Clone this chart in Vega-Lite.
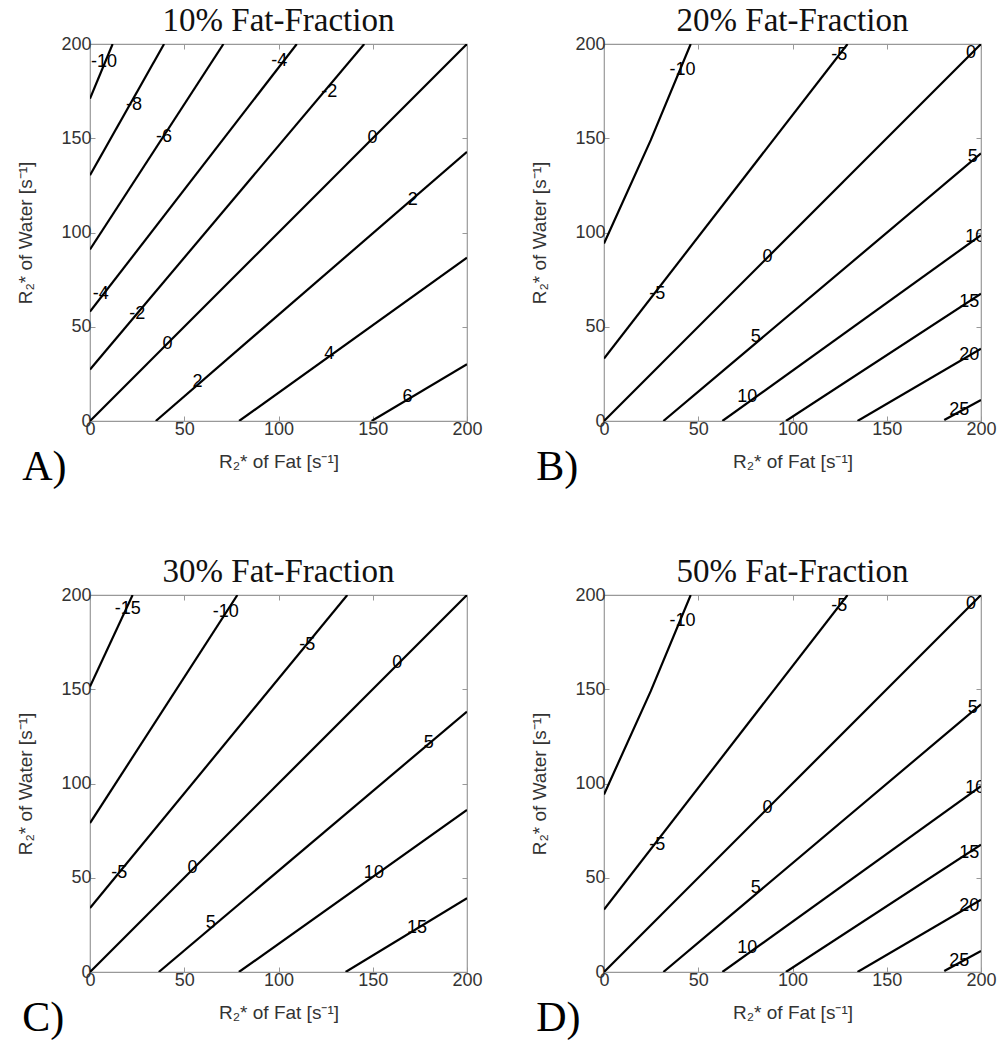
{
  "$schema": "https://vega.github.io/schema/vega-lite/v6.json",
  "background": "white",
  "padding": {"left": 16, "top": 4, "right": 0, "bottom": 0},
  "autosize": {"type": "pad"},
  "columns": 2,
  "spacing": {"row": 174, "column": 137},
  "bounds": "flush",
  "datasets": {
    "A_lines": [
      {"level": "-10", "fat": 0, "water": 171}, {"level": "-10", "fat": 12, "water": 200},
      {"level": "-8", "fat": 0, "water": 130.4}, {"level": "-8", "fat": 39.3, "water": 200},
      {"level": "-6", "fat": 0, "water": 91}, {"level": "-6", "fat": 70.8, "water": 200},
      {"level": "-4", "fat": 0, "water": 58}, {"level": "-4", "fat": 109.7, "water": 200},
      {"level": "-2", "fat": 0, "water": 27.3}, {"level": "-2", "fat": 145.5, "water": 200},
      {"level": "0", "fat": 0, "water": 0}, {"level": "0", "fat": 200, "water": 200},
      {"level": "2", "fat": 34.9, "water": 0}, {"level": "2", "fat": 200, "water": 142.8},
      {"level": "4", "fat": 79.1, "water": 0}, {"level": "4", "fat": 200, "water": 86.7},
      {"level": "6", "fat": 149.4, "water": 0}, {"level": "6", "fat": 200, "water": 30.1}
    ],
    "A_labels": [
      {"label": "-10", "fat": 7.4, "water": 190.6},
      {"label": "-8", "fat": 23.4, "water": 167.6},
      {"label": "-6", "fat": 39.3, "water": 150.8},
      {"label": "-4", "fat": 5.7, "water": 67.6},
      {"label": "-4", "fat": 100.4, "water": 191},
      {"label": "-2", "fat": 25.1, "water": 57},
      {"label": "-2", "fat": 126.9, "water": 174.7},
      {"label": "0", "fat": 41.1, "water": 41.1},
      {"label": "0", "fat": 149.9, "water": 149.9},
      {"label": "2", "fat": 57, "water": 20.7},
      {"label": "2", "fat": 171.2, "water": 117.2},
      {"label": "4", "fat": 126.9, "water": 35.8},
      {"label": "6", "fat": 168.5, "water": 12.7}
    ],
    "B_lines": [
      {"level": "-10", "fat": 0, "water": 94.2}, {"level": "-10", "fat": 24.8, "water": 149}, {"level": "-10", "fat": 46, "water": 200},
      {"level": "-5", "fat": 0, "water": 33.1}, {"level": "-5", "fat": 129.2, "water": 200},
      {"level": "0", "fat": 0, "water": 0}, {"level": "0", "fat": 200, "water": 200},
      {"level": "5", "fat": 31.5, "water": 0}, {"level": "5", "fat": 200, "water": 142},
      {"level": "10", "fat": 62.8, "water": 0}, {"level": "10", "fat": 200, "water": 98.6},
      {"level": "15", "fat": 96.5, "water": 0}, {"level": "15", "fat": 200, "water": 67.6},
      {"level": "20", "fat": 134.5, "water": 0}, {"level": "20", "fat": 200, "water": 38.4},
      {"level": "25", "fat": 180.5, "water": 0.5}, {"level": "25", "fat": 200, "water": 11.2}
    ],
    "B_labels": [
      {"label": "-10", "fat": 41.6, "water": 186},
      {"label": "-5", "fat": 124.8, "water": 194},
      {"label": "-5", "fat": 28.3, "water": 67.6},
      {"label": "0", "fat": 86.7, "water": 87},
      {"label": "0", "fat": 194.7, "water": 195},
      {"label": "5", "fat": 80.5, "water": 44.6},
      {"label": "5", "fat": 195.6, "water": 140},
      {"label": "10", "fat": 76, "water": 12.7},
      {"label": "10", "fat": 197, "water": 97.7},
      {"label": "15", "fat": 193.8, "water": 63.2},
      {"label": "20", "fat": 193.8, "water": 34.9},
      {"label": "25", "fat": 188.5, "water": 6}
    ],
    "C_lines": [
      {"level": "-15", "fat": 0, "water": 151.4}, {"level": "-15", "fat": 22.6, "water": 200},
      {"level": "-10", "fat": 0, "water": 79}, {"level": "-10", "fat": 78.2, "water": 200},
      {"level": "-5", "fat": 0, "water": 33.9}, {"level": "-5", "fat": 136.5, "water": 200},
      {"level": "0", "fat": 0, "water": 0}, {"level": "0", "fat": 200, "water": 200},
      {"level": "5", "fat": 36.5, "water": 0}, {"level": "5", "fat": 200, "water": 138.2},
      {"level": "10", "fat": 79, "water": 0}, {"level": "10", "fat": 200, "water": 86},
      {"level": "15", "fat": 135.6, "water": 0}, {"level": "15", "fat": 200, "water": 39.2}
    ],
    "C_labels": [
      {"label": "-15", "fat": 20, "water": 192.4},
      {"label": "-10", "fat": 72, "water": 191},
      {"label": "-5", "fat": 15.5, "water": 52.5},
      {"label": "-5", "fat": 115.3, "water": 173.5},
      {"label": "0", "fat": 54.4, "water": 55.1},
      {"label": "0", "fat": 163, "water": 163.8},
      {"label": "5", "fat": 64, "water": 26},
      {"label": "5", "fat": 179.7, "water": 121.4},
      {"label": "10", "fat": 150.6, "water": 52.5},
      {"label": "15", "fat": 173.5, "water": 23.3}
    ]
  },
  "concat": [
    {
      "width": 377, "height": 377,
      "title": {"text": "10% Fat-Fraction"},
      "resolve": {"axis": {"x": "independent", "y": "independent"}},
      "layer": [
        {"data": {"name": "A_lines"}, "mark": {"type": "line", "color": "black", "strokeWidth": 2.2, "clip": true},
         "encoding": {
           "x": {"field": "fat", "type": "quantitative", "scale": {"domain": [0, 200], "nice": false}, "axis": {"orient": "bottom", "values": [0, 50, 100, 150, 200], "title": "R₂* of Fat [s⁻¹]"}},
           "y": {"field": "water", "type": "quantitative", "scale": {"domain": [0, 200], "nice": false}, "axis": {"orient": "left", "values": [0, 50, 100, 150, 200], "title": "R₂* of Water [s⁻¹]"}},
           "detail": {"field": "level", "type": "nominal"}}},
        {"data": {"name": "A_labels"}, "mark": {"type": "text", "font": "Liberation Sans", "fontSize": 18, "color": "black", "clip": true},
         "encoding": {
           "x": {"field": "fat", "type": "quantitative", "axis": {"orient": "top", "values": [0, 50, 100, 150, 200], "labels": false, "title": null}},
           "y": {"field": "water", "type": "quantitative", "axis": {"orient": "right", "values": [0, 50, 100, 150, 200], "labels": false, "title": null}},
           "text": {"field": "label"}}},
        {"data": {"values": [{"letter": "A)"}]}, "mark": {"type": "text", "font": "Liberation Serif", "fontSize": 42, "align": "left", "baseline": "alphabetic", "color": "black", "clip": false},
         "encoding": {"x": {"datum": -36, "type": "quantitative", "axis": null}, "y": {"datum": -31.5, "type": "quantitative", "axis": null}, "text": {"field": "letter"}}}
      ]
    },
    {
      "width": 377, "height": 377,
      "title": {"text": "20% Fat-Fraction"},
      "resolve": {"axis": {"x": "independent", "y": "independent"}},
      "layer": [
        {"data": {"name": "B_lines"}, "mark": {"type": "line", "color": "black", "strokeWidth": 2.2, "clip": true},
         "encoding": {
           "x": {"field": "fat", "type": "quantitative", "scale": {"domain": [0, 200], "nice": false}, "axis": {"orient": "bottom", "values": [0, 50, 100, 150, 200], "title": "R₂* of Fat [s⁻¹]"}},
           "y": {"field": "water", "type": "quantitative", "scale": {"domain": [0, 200], "nice": false}, "axis": {"orient": "left", "values": [0, 50, 100, 150, 200], "title": "R₂* of Water [s⁻¹]"}},
           "detail": {"field": "level", "type": "nominal"}}},
        {"data": {"name": "B_labels"}, "mark": {"type": "text", "font": "Liberation Sans", "fontSize": 18, "color": "black", "clip": true},
         "encoding": {
           "x": {"field": "fat", "type": "quantitative", "axis": {"orient": "top", "values": [0, 50, 100, 150, 200], "labels": false, "title": null}},
           "y": {"field": "water", "type": "quantitative", "axis": {"orient": "right", "values": [0, 50, 100, 150, 200], "labels": false, "title": null}},
           "text": {"field": "label"}}},
        {"data": {"values": [{"letter": "B)"}]}, "mark": {"type": "text", "font": "Liberation Serif", "fontSize": 42, "align": "left", "baseline": "alphabetic", "color": "black", "clip": false},
         "encoding": {"x": {"datum": -36, "type": "quantitative", "axis": null}, "y": {"datum": -31.5, "type": "quantitative", "axis": null}, "text": {"field": "letter"}}}
      ]
    },
    {
      "width": 377, "height": 377,
      "title": {"text": "30% Fat-Fraction"},
      "resolve": {"axis": {"x": "independent", "y": "independent"}},
      "layer": [
        {"data": {"name": "C_lines"}, "mark": {"type": "line", "color": "black", "strokeWidth": 2.2, "clip": true},
         "encoding": {
           "x": {"field": "fat", "type": "quantitative", "scale": {"domain": [0, 200], "nice": false}, "axis": {"orient": "bottom", "values": [0, 50, 100, 150, 200], "title": "R₂* of Fat [s⁻¹]"}},
           "y": {"field": "water", "type": "quantitative", "scale": {"domain": [0, 200], "nice": false}, "axis": {"orient": "left", "values": [0, 50, 100, 150, 200], "title": "R₂* of Water [s⁻¹]"}},
           "detail": {"field": "level", "type": "nominal"}}},
        {"data": {"name": "C_labels"}, "mark": {"type": "text", "font": "Liberation Sans", "fontSize": 18, "color": "black", "clip": true},
         "encoding": {
           "x": {"field": "fat", "type": "quantitative", "axis": {"orient": "top", "values": [0, 50, 100, 150, 200], "labels": false, "title": null}},
           "y": {"field": "water", "type": "quantitative", "axis": {"orient": "right", "values": [0, 50, 100, 150, 200], "labels": false, "title": null}},
           "text": {"field": "label"}}},
        {"data": {"values": [{"letter": "C)"}]}, "mark": {"type": "text", "font": "Liberation Serif", "fontSize": 42, "align": "left", "baseline": "alphabetic", "color": "black", "clip": false},
         "encoding": {"x": {"datum": -36, "type": "quantitative", "axis": null}, "y": {"datum": -31.5, "type": "quantitative", "axis": null}, "text": {"field": "letter"}}}
      ]
    },
    {
      "width": 377, "height": 377,
      "title": {"text": "50% Fat-Fraction"},
      "resolve": {"axis": {"x": "independent", "y": "independent"}},
      "layer": [
        {"data": {"name": "B_lines"}, "mark": {"type": "line", "color": "black", "strokeWidth": 2.2, "clip": true},
         "encoding": {
           "x": {"field": "fat", "type": "quantitative", "scale": {"domain": [0, 200], "nice": false}, "axis": {"orient": "bottom", "values": [0, 50, 100, 150, 200], "title": "R₂* of Fat [s⁻¹]"}},
           "y": {"field": "water", "type": "quantitative", "scale": {"domain": [0, 200], "nice": false}, "axis": {"orient": "left", "values": [0, 50, 100, 150, 200], "title": "R₂* of Water [s⁻¹]"}},
           "detail": {"field": "level", "type": "nominal"}}},
        {"data": {"name": "B_labels"}, "mark": {"type": "text", "font": "Liberation Sans", "fontSize": 18, "color": "black", "clip": true},
         "encoding": {
           "x": {"field": "fat", "type": "quantitative", "axis": {"orient": "top", "values": [0, 50, 100, 150, 200], "labels": false, "title": null}},
           "y": {"field": "water", "type": "quantitative", "axis": {"orient": "right", "values": [0, 50, 100, 150, 200], "labels": false, "title": null}},
           "text": {"field": "label"}}},
        {"data": {"values": [{"letter": "D)"}]}, "mark": {"type": "text", "font": "Liberation Serif", "fontSize": 42, "align": "left", "baseline": "alphabetic", "color": "black", "clip": false},
         "encoding": {"x": {"datum": -36, "type": "quantitative", "axis": null}, "y": {"datum": -31.5, "type": "quantitative", "axis": null}, "text": {"field": "letter"}}}
      ]
    }
  ],
  "config": {
    "view": {"stroke": "#999999", "strokeWidth": 1.2},
    "axis": {
      "domain": false, "grid": false, "ticks": true, "tickColor": "#999999", "tickSize": -5, "tickWidth": 1,
      "labelFont": "Liberation Sans", "labelFontSize": 18, "labelColor": "#333333", "labelPadding": 4,
      "labelOverlap": false, "labelFlush": false,
      "titleFont": "Liberation Sans", "titleFontSize": 19, "titleFontWeight": "normal", "titleColor": "#333333"
    },
    "axisLeft": {"titlePadding": 25},
    "axisBottom": {"titlePadding": 14},
    "title": {"font": "Liberation Serif", "fontSize": 33, "fontWeight": "normal", "color": "#111111", "anchor": "middle", "baseline": "alphabetic", "offset": -3}
  }
}
